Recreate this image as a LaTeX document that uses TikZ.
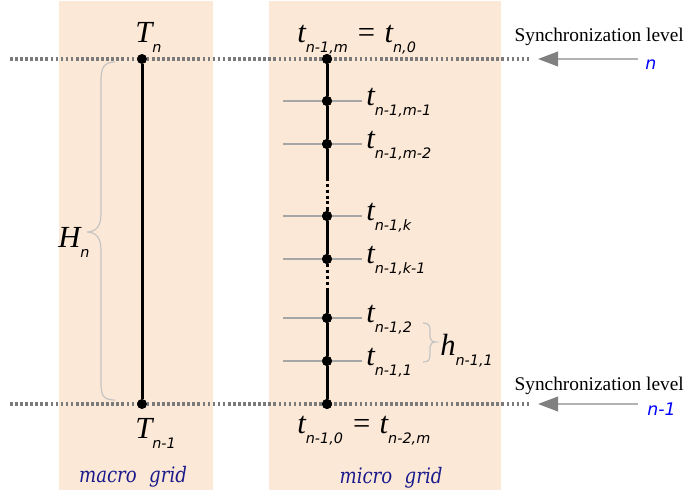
\documentclass[tikz,border=0pt]{standalone}
\usepackage{fontspec}
\setmainfont{Liberation Serif}
\newfontfamily\subf{DejaVu Sans}
\newfontfamily\gridf{DejaVu Serif}[FakeStretch=0.85]
\usetikzlibrary{arrows.meta}
\definecolor{panel}{HTML}{FCE8D6}
\definecolor{navy}{HTML}{1A1A8C}
\definecolor{syncgray}{HTML}{7A7A7A}
\definecolor{bracegray}{HTML}{C4C4C4}
\newcommand{\mainv}[1]{{\fontsize{23}{23}\selectfont\itshape #1}}
\newcommand{\subv}[1]{\raisebox{-7.5pt}{\fontsize{10.8}{10.8}\selectfont\subf\itshape #1}}
\newcommand{\eqsp}{\hspace{6pt}}
\begin{document}
\begin{tikzpicture}[x=0.75pt,y=-0.75pt,
  dot/.style={circle,fill=black,inner sep=0pt,minimum size=7.5pt},
  axis/.style={line width=2.25pt,black},
  dotaxis/.style={line width=2.25pt,black,dash pattern=on 2.2pt off 2.2pt},
  tick/.style={line width=0.8pt,gray!70},
  synclevel/.style={line width=2.3pt,syncgray,dash pattern=on 2pt off 1.8pt},
  syncarrow/.style={line width=1.2pt,gray!60,-{Triangle[length=15pt,width=11pt,fill=gray,color=gray]}},
  brace/.style={line width=0.9pt,bracegray},
  lab/.style={inner sep=0pt,anchor=base west},
  grid/.style={inner sep=0pt,anchor=base,text=navy,font=\fontsize{16}{16}\selectfont\gridf\itshape},
  synctext/.style={inner sep=0pt,anchor=base east,font=\fontsize{14.5}{14.5}\selectfont},
  synclev/.style={inner sep=0pt,anchor=base west,text=blue,font=\fontsize{13}{13}\selectfont\subf\itshape}]
\useasboundingbox (0,0) rectangle (688,496);
% panels
\fill[panel] (59,1) rectangle (213,490);
\fill[panel] (269,1) rectangle (501,490);
% synchronization lines
\coordinate (s1l) at (10,59);
\coordinate (s1r) at (530,59);
\coordinate (s0l) at (10,404);
\coordinate (s0r) at (530,404);
\draw[synclevel] (s1l) -- (s1r);
\draw[synclevel] (s0l) -- (s0r);
% arrows
\coordinate (a1s) at (638,59);
\coordinate (a1e) at (538,59);
\coordinate (a0s) at (638,404);
\coordinate (a0e) at (538,404);
\draw[syncarrow] (a1s) -- (a1e);
\draw[syncarrow] (a0s) -- (a0e);
\node[synctext] (st1) at (684,41) {Synchronization level};
\node[synclev] (sn1) at (645,69) {n};
\node[synctext] (st0) at (684,390) {Synchronization level};
\node[synclev] (sn0) at (647,415) {n-1};
% macro grid
\node[dot] (M1) at (142,59) {};
\node[dot] (M0) at (142,404) {};
\draw[axis] (M1) -- (M0);
\node[lab] (TN) at (135,42) {\mainv{T}\subv{n}};
\node[lab] (TN1) at (135,438) {\mainv{T}\subv{n-1}};
\draw[brace] (115,62) .. controls (104,62) and (101,68) .. (101,80) -- (101,214)
  .. controls (101,226) and (96,232) .. (87,232)
  .. controls (96,232) and (101,238) .. (101,250) -- (101,384)
  .. controls (101,396) and (104,400) .. (115,400);
\node[lab] (HN) at (58,247) {\mainv{H}\subv{n}};
\node[grid] (mg) at (133,482) {macro\hspace{5pt} grid};
% micro grid
\node[dot] (u0) at (327,59) {};
\node[dot] (u1) at (327,101) {};
\node[dot] (u2) at (327,144) {};
\node[dot] (u3) at (327,216) {};
\node[dot] (u4) at (327,259) {};
\node[dot] (u5) at (327,318) {};
\node[dot] (u6) at (327,361) {};
\node[dot] (u7) at (327,404) {};
\coordinate (d1a) at (327,178);
\coordinate (d1b) at (327,208);
\coordinate (d2a) at (327,265);
\coordinate (d2b) at (327,288);
\foreach \n in {u1,u2,u3,u4,u5,u6}
  \draw[tick] (\n.center) ++(-44,0) -- ++(79,0);
\draw[axis] (u0) -- (u1);
\draw[axis] (u1) -- (u2);
\draw[axis] (u2) -- (d1a);
\draw[dotaxis] (d1a) -- (d1b);
\draw[axis] (d1b) -- (u3);
\draw[axis] (u3) -- (u4);
\draw[dotaxis] (u4) -- (d2a) -- (d2b);
\draw[axis] (d2b) -- (u5);
\draw[axis] (u5) -- (u6);
\draw[axis] (u6) -- (u7);
\foreach \n in {u0,u1,u2,u3,u4,u5,u6,u7} \node[dot] at (\n) {};
\node[lab] (t0) at (297,42) {\mainv{t}\subv{n-1,m}\eqsp\mainv{=}\eqsp\mainv{t}\subv{n,0}};
\node[lab] (t1) at (366,105) {\mainv{t}\subv{n-1,m-1}};
\node[lab] (t2) at (366,148) {\mainv{t}\subv{n-1,m-2}};
\node[lab] (t3) at (366,220) {\mainv{t}\subv{n-1,k}};
\node[lab] (t4) at (366,263) {\mainv{t}\subv{n-1,k-1}};
\node[lab] (t5) at (366,322) {\mainv{t}\subv{n-1,2}};
\node[lab] (t6) at (366,365) {\mainv{t}\subv{n-1,1}};
\node[lab] (t7) at (297,433) {\mainv{t}\subv{n-1,0}\eqsp\mainv{=}\eqsp\mainv{t}\subv{n-2,m}};
\draw[brace] (423,323) .. controls (428,323) and (430,325) .. (430,330) -- (430,337)
  .. controls (430,340) and (432,342) .. (436,342)
  .. controls (432,342) and (430,344) .. (430,347) -- (430,355)
  .. controls (430,360) and (428,362) .. (423,362);
\node[lab] (hl) at (440,355) {\mainv{h}\subv{n-1,1}};
\node[grid] (ug) at (391,483) {micro\hspace{5pt} grid};
\end{tikzpicture}
\end{document}
